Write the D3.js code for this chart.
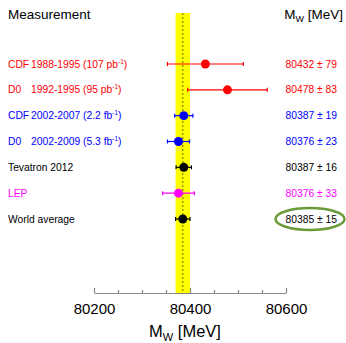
<!DOCTYPE html>
<html>
<head>
<meta charset="utf-8">
<script src="https://cdn.jsdelivr.net/npm/d3@7"></script>
<style>
  body { margin: 0; background: #fff; }
  svg { font-family: "Liberation Sans", Arial, sans-serif; }
</style>
</head>
<body>
<svg id="chart" width="346" height="343"></svg>
<script>
// Measurements of the W mass
let experiments = ['CDF', 'D0', 'CDF', 'D0', 'Tevatron 2012', 'LEP', 'World average']
let periods = ['1988-1995', '1992-1995', '2002-2007', '2002-2009', '', '', '']
let lumis = ['107 pb', '95 pb', '2.2 fb', '5.3 fb', '', '', '']
let masses = [80432, 80478, 80387, 80376, 80387, 80376, 80385]
let errors = [79, 83, 19, 23, 16, 33, 15]
let colors = ['#ff0000', '#ff0000', '#0000ff', '#0000ff', '#000000', '#ff00ff', '#000000']
let majorTicks = [80200, 80400, 80600]
let minorTicks = [80250, 80300, 80350, 80450, 80500, 80550]

let worldAvg = 80385
let worldErr = 15

var svg = d3.select('#chart')

var x = d3.scaleLinear()
    .domain([80200, 80600])
    .range([94, 286])

var y = d3.scaleLinear()
    .domain([0, experiments.length - 1])
    .range([64, 219])

var axisY = 293

// yellow band for the world average
svg.append('rect')
    .attr('x', x(worldAvg - worldErr))
    .attr('y', 13)
    .attr('width', x(worldAvg + worldErr) - x(worldAvg - worldErr))
    .attr('height', axisY - 13)
    .attr('fill', '#ffff00')

svg.append('line')
    .attr('x1', x(worldAvg)).attr('x2', x(worldAvg))
    .attr('y1', 13).attr('y2', axisY)
    .attr('stroke', '#000')
    .attr('stroke-width', 0.6)
    .attr('stroke-dasharray', '2,2')

// headers
svg.append('text')
    .attr('x', 8).attr('y', 19)
    .attr('font-size', 13.5)
    .text('Measurement')

var hdr = svg.append('text')
    .attr('x', 343).attr('y', 19)
    .attr('text-anchor', 'end')
    .attr('font-size', 13.5)
hdr.append('tspan').text('M')
hdr.append('tspan').attr('font-size', 9).attr('dy', 3).text('W')
hdr.append('tspan').attr('dy', -3).text(' [MeV]')

// rows
var rows = svg.selectAll('g.row')
    .data(masses)
    .enter()
    .append('g')
    .attr('class', 'row')

rows.append('line')
    .attr('x1', (d, i) => x(d - errors[i]))
    .attr('x2', (d, i) => x(d + errors[i]))
    .attr('y1', (d, i) => y(i)).attr('y2', (d, i) => y(i))
    .attr('stroke', (d, i) => colors[i])
    .attr('stroke-width', 1.2)

rows.selectAll('line.cap')
    .data((d, i) => [[x(d - errors[i]), i], [x(d + errors[i]), i]])
    .enter()
    .append('line')
    .attr('class', 'cap')
    .attr('x1', c => c[0]).attr('x2', c => c[0])
    .attr('y1', c => y(c[1]) - 2).attr('y2', c => y(c[1]) + 2)
    .attr('stroke', c => colors[c[1]])
    .attr('stroke-width', 1.2)

rows.append('circle')
    .attr('cx', d => x(d))
    .attr('cy', (d, i) => y(i))
    .attr('r', 4.5)
    .attr('fill', (d, i) => colors[i])

// labels on the left
var labels = rows.append('text')
    .attr('x', 8)
    .attr('y', (d, i) => y(i) + 3.5)
    .attr('font-size', 10.3)
    .attr('fill', (d, i) => colors[i])

labels.append('tspan').text((d, i) => experiments[i])
labels.each(function (d, i) {
    if (!periods[i]) return
    let t = d3.select(this)
    t.append('tspan').attr('x', 31).text(periods[i] + ' (' + lumis[i])
    t.append('tspan').attr('font-size', 6.5).attr('dy', -4).text('-1')
    t.append('tspan').attr('dy', 4).text(')')
})

// values on the right
rows.append('text')
    .attr('x', 337)
    .attr('y', (d, i) => y(i) + 3.5)
    .attr('text-anchor', 'end')
    .attr('font-size', 10.3)
    .attr('fill', (d, i) => colors[i])
    .text((d, i) => d + ' \u00b1 ' + errors[i])

// green ellipse around the world average
svg.append('ellipse')
    .attr('cx', 310)
    .attr('cy', y(experiments.length - 1))
    .attr('rx', 34.5)
    .attr('ry', 11)
    .attr('fill', 'none')
    .attr('stroke', '#6a9a3a')
    .attr('stroke-width', 2.5)

// x axis
var axis = svg.append('g')
    .attr('transform', 'translate(0,' + axisY + ')')
    .call(d3.axisBottom(x)
        .tickValues(majorTicks)
        .tickFormat(d3.format('d'))
        .tickSizeInner(-5)
        .tickSizeOuter(0)
        .tickPadding(10))

axis.select('.domain').attr('stroke', '#888').attr('stroke-width', 1.2)
axis.selectAll('.tick line').attr('stroke', '#888').attr('stroke-width', 1.2)
axis.selectAll('.tick text')
    .attr('font-size', 15)
    .attr('fill', '#000')
    .attr('font-family', '"Liberation Sans", Arial, sans-serif')

var minor = svg.append('g')
    .attr('transform', 'translate(0,' + axisY + ')')
    .call(d3.axisBottom(x)
        .tickValues(minorTicks)
        .tickFormat('')
        .tickSizeInner(-3)
        .tickSizeOuter(0))
minor.select('.domain').remove()
minor.selectAll('.tick line').attr('stroke', '#888').attr('stroke-width', 1.2)

// axis title
var title = svg.append('text')
    .attr('x', x(80400) - 5)
    .attr('y', 337)
    .attr('text-anchor', 'middle')
    .attr('font-size', 16.5)
title.append('tspan').text('M')
title.append('tspan').attr('font-size', 11).attr('dy', 4).text('W')
title.append('tspan').attr('dy', -4).text(' [MeV]')
</script>
</body>
</html>
